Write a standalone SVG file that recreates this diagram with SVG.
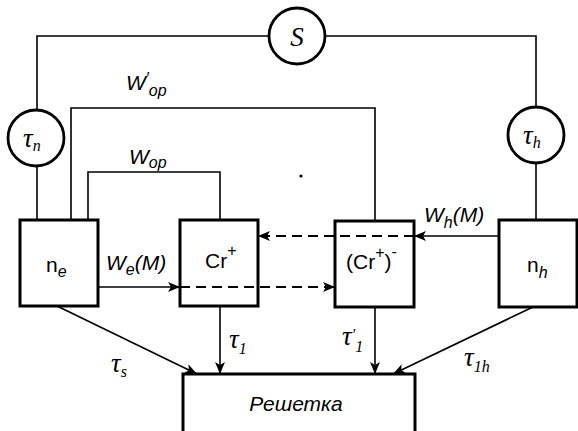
<svg xmlns="http://www.w3.org/2000/svg" width="578" height="431" viewBox="0 0 578 431">
<defs>
<style>
.ln{fill:none;stroke:#000;stroke-width:1.6}
.bx{fill:none;stroke:#000;stroke-width:3}
.cr{fill:#fff;stroke:#000;stroke-width:2.8}
.ds{fill:none;stroke:#000;stroke-width:2;stroke-dasharray:10 6}
.tau{font-family:"Liberation Serif",serif;font-style:italic;font-size:27px;fill:#000}
.it{font-family:"Liberation Sans",sans-serif;font-style:italic;font-size:21px;fill:#000}
.sub{font-size:16px}
.lab{font-family:"Liberation Sans",sans-serif;font-size:21px;fill:#000}
</style>
<marker id="ah" viewBox="0 0 12 10" refX="12" refY="5" markerWidth="12" markerHeight="10" markerUnits="userSpaceOnUse" orient="auto">
<path d="M0,0 L12,5 L0,10 L3,5 Z" fill="#000"/>
</marker>
</defs>
<g id="connectors">
<path class="ln" d="M37,220 V36 H536 V220"/>
<path class="ln" d="M71,220 V108 H375 V221"/>
<path class="ln" d="M88,220 V172 H220 V220"/>
<path class="ln" d="M98,287 H180" marker-end="url(#ah)"/>
<path class="ds" d="M180,287 H335" marker-end="url(#ah)"/>
<path class="ln" d="M499,236 H414" marker-end="url(#ah)"/>
<path class="ds" d="M414,236 H258" marker-end="url(#ah)"/>
<path class="ln" d="M220,306 V374" marker-end="url(#ah)"/>
<path class="ln" d="M375,307 V374" marker-end="url(#ah)"/>
<path class="ln" d="M57,306 L197,374" stroke-width="2" marker-end="url(#ah)"/>
<path class="ln" d="M533,307 L393,374" stroke-width="2" marker-end="url(#ah)"/>
</g>
<g id="S"><circle class="cr" cx="297" cy="36" r="28"/><text class="tau" x="297" y="46" text-anchor="middle" font-size="28">S</text></g>
<g id="tau_n"><circle class="cr" cx="36" cy="138" r="28"/><text class="tau" x="23" y="147">τ<tspan class="sub" dy="4">n</tspan></text></g>
<g id="tau_h"><circle class="cr" cx="536" cy="135" r="28"/><text class="tau" x="523" y="144">τ<tspan class="sub" dy="4">h</tspan></text></g>
<g id="ne"><rect class="bx" x="20" y="220" width="78" height="86"/><text class="lab" x="46" y="272">n<tspan class="sub" dy="5" font-style="italic">e</tspan></text></g>
<g id="cr"><rect class="bx" x="180" y="220" width="78" height="86"/><text class="lab" x="205" y="268">Cr<tspan class="sub" dy="-12">+</tspan></text></g>
<g id="cr_minus"><rect class="bx" x="335" y="221" width="79" height="86"/><text class="lab" x="346" y="269">(Cr<tspan class="sub" dy="-11">+</tspan><tspan dy="11">)</tspan><tspan class="sub" dy="-12">-</tspan></text></g>
<g id="nh"><rect class="bx" x="499" y="220" width="78" height="87"/><text class="lab" x="527" y="272">n<tspan class="sub" dy="6" font-style="italic">h</tspan></text></g>
<g id="reshetka"><rect class="bx" x="183" y="374" width="232" height="80"/><text class="it" x="296" y="411" text-anchor="middle" font-size="22">Решетка</text></g>
<g id="labels">
<text class="it" x="126" y="90" font-size="22">W<tspan font-size="16" dy="-6">′</tspan><tspan class="sub" dy="12">op</tspan></text>
<text class="it" x="129" y="164" font-size="22">W<tspan class="sub" dy="4">op</tspan></text>
<text class="it" x="106" y="270">W<tspan class="sub" dy="5">e</tspan><tspan dy="-5">(M)</tspan></text>
<text class="it" x="424" y="222">W<tspan class="sub" dy="6">h</tspan><tspan dy="-6">(M)</tspan></text>
<text class="tau" x="111" y="372" font-size="25">τ<tspan class="sub" dy="5">s</tspan></text>
<text class="tau" x="229" y="348" font-size="25">τ<tspan class="sub" dy="6">1</tspan></text>
<text class="tau" x="342" y="345" font-size="25">τ<tspan class="sub" dy="-5">′</tspan><tspan class="sub" dy="12">1</tspan></text>
<text class="tau" x="464" y="366" font-size="25">τ<tspan class="sub" dy="6">1h</tspan></text>
</g>
<circle cx="301" cy="176" r="1.6" fill="#000"/>
</svg>
